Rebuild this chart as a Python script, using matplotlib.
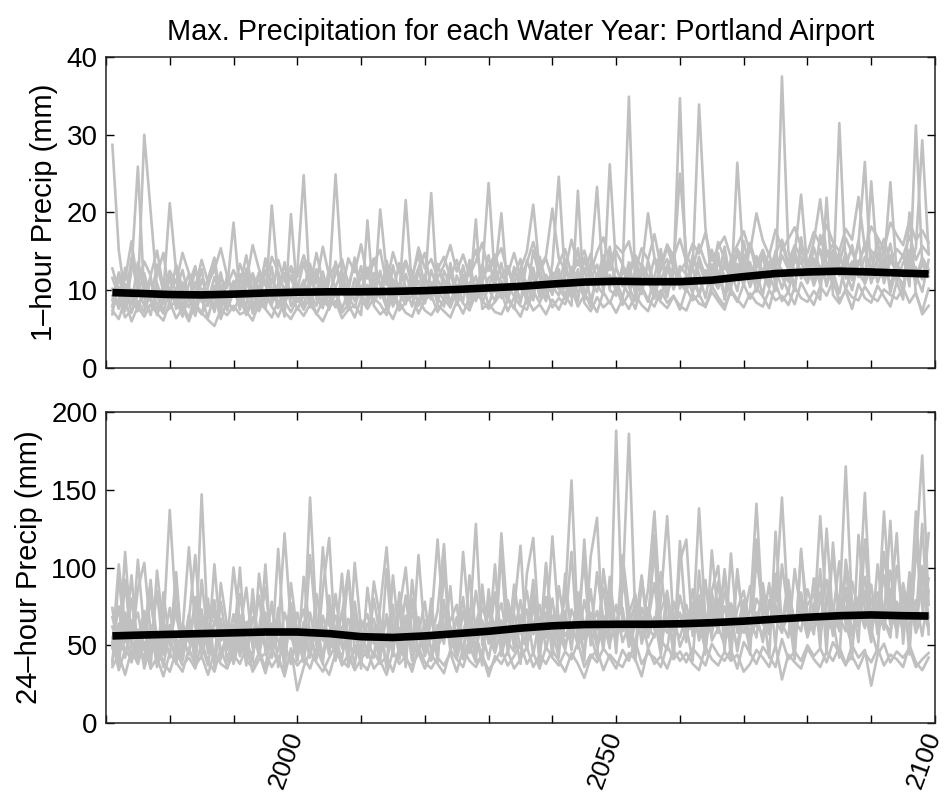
import matplotlib
matplotlib.use("Agg")
import matplotlib.pyplot as plt
import matplotlib.transforms as mtransforms

plt.rcParams['font.family'] = ['Liberation Sans', 'DejaVu Sans']

# ---------------- data ----------------
years = list(range(1971, 2100))  # water years 1971..2099

# 1-hour annual max precipitation (mm), one list per ensemble member
hr1_runs = [
    [28.7, 15.2, 9.1, 8.4, 10.6, 7.9, 11.3, 9.0, 8.2, 12.4,
     9.6, 7.4, 10.8, 13.1, 8.5, 9.9, 7.2, 11.6, 10.3, 18.7,
     9.4, 8.1, 12.2, 10.0, 7.7, 11.5, 9.2, 13.6, 8.8, 10.4,
     7.9, 11.8, 9.5, 8.3, 12.9, 10.1, 7.6, 9.8, 14.2, 8.9,
     10.7, 9.3, 12.5, 8.0, 11.1, 9.6, 21.6, 10.2, 8.4, 12.0,
     9.1, 13.4, 10.5, 7.8, 11.9, 9.7, 12.8, 8.6, 10.9, 14.5,
     9.8, 11.2, 8.5, 13.0, 10.4, 9.2, 15.1, 11.6, 8.9, 12.3,
     10.6, 14.0, 9.4, 12.7, 8.8, 11.5, 13.3, 10.0, 15.6, 9.7,
     12.4, 34.9, 11.0, 9.5, 13.8, 10.7, 8.9, 12.6, 14.9, 10.2,
     11.8, 9.6, 13.5, 10.9, 15.2, 12.0, 9.3, 14.1, 11.4, 16.3,
     12.5, 10.8, 14.7, 11.9, 9.9, 16.0, 13.2, 10.6, 15.4, 12.8,
     11.2, 17.1, 13.6, 10.4, 31.5, 12.9, 15.8, 11.7, 14.3, 12.1,
     16.5, 10.9, 13.8, 12.4, 9.8, 15.0, 11.6, 14.2, 12.7],
    [8.1, 10.4, 7.3, 12.6, 25.9, 9.2, 6.8, 10.9, 8.4, 11.7,
     7.6, 9.8, 12.1, 8.0, 6.9, 10.5, 13.4, 7.8, 9.1, 11.2,
     8.3, 12.8, 7.0, 9.6, 14.1, 8.7, 10.2, 6.6, 19.8, 9.4,
     11.0, 7.8, 12.3, 9.9, 8.1, 13.7, 10.6, 7.4, 11.5, 9.0,
     12.9, 8.4, 10.1, 7.7, 13.2, 9.5, 8.2, 11.9, 14.6, 10.3,
     22.5, 9.0, 7.9, 12.2, 10.4, 8.6, 13.9, 9.3, 11.1, 8.0,
     10.8, 13.5, 9.1, 7.6, 12.4, 10.9, 8.7, 14.3, 11.0, 9.4,
     12.7, 8.9, 11.3, 15.4, 9.8, 7.9, 12.1, 10.6, 13.6, 11.4,
     9.0, 12.8, 14.4, 10.3, 8.5, 11.7, 15.3, 9.6, 12.2, 34.7,
     11.5, 13.0, 9.2, 12.6, 10.1, 14.8, 8.8, 11.9, 13.4, 10.5,
     15.9, 12.3, 9.4, 13.7, 11.0, 14.5, 12.7, 9.9, 16.8, 11.6,
     13.9, 10.7, 15.1, 12.4, 9.6, 14.0, 12.2, 16.4, 10.8, 13.1,
     11.9, 15.6, 9.7, 12.9, 14.6, 10.5, 31.2, 13.3, 11.8],
    [6.9, 11.8, 8.5, 14.2, 9.7, 30.0, 20.1, 10.3, 7.2, 9.9,
     11.4, 8.2, 6.4, 9.5, 12.7, 8.0, 10.6, 7.1, 12.0, 9.2,
     10.9, 7.4, 9.0, 11.7, 8.3, 13.0, 7.7, 10.1, 9.4, 12.5,
     24.8, 9.7, 8.0, 11.3, 7.5, 10.4, 12.6, 8.8, 9.9, 13.1,
     8.6, 11.4, 9.0, 13.8, 10.2, 7.9, 12.1, 9.5, 11.2, 8.3,
     12.6, 10.0, 8.7, 13.5, 9.3, 11.8, 7.8, 10.7, 12.3, 23.8,
     11.2, 9.0, 12.8, 10.3, 8.4, 13.9, 11.5, 9.7, 12.0, 10.6,
     9.3, 12.5, 10.8, 8.6, 14.2, 11.0, 9.8, 13.1, 10.4, 12.9,
     10.5, 13.6, 9.4, 12.1, 11.3, 8.9, 14.7, 10.8, 12.6, 11.0,
     9.8, 12.9, 33.9, 18.0, 11.6, 10.2, 13.8, 12.4, 9.9, 14.6,
     11.1, 13.9, 12.0, 10.3, 15.1, 11.8, 9.7, 14.0, 12.5, 10.9,
     15.5, 12.6, 11.0, 14.4, 13.0, 10.1, 12.8, 15.9, 26.5, 11.3,
     12.2, 14.1, 10.6, 13.5, 11.7, 15.2, 12.0, 9.8, 13.9],
    [10.2, 7.6, 12.9, 9.0, 7.3, 11.1, 8.6, 13.3, 9.8, 21.2,
     12.4, 9.1, 7.8, 11.0, 8.8, 6.5, 9.7, 12.3, 8.1, 10.4,
     7.5, 11.3, 9.5, 8.2, 12.6, 10.0, 7.9, 9.3, 11.9, 8.5,
     10.2, 13.4, 8.9, 7.7, 11.2, 24.9, 12.0, 9.1, 7.8, 10.6,
     9.4, 12.2, 10.8, 8.1, 9.7, 13.5, 10.4, 7.9, 12.7, 9.2,
     11.0, 8.3, 12.5, 10.6, 8.9, 13.2, 9.6, 11.8, 8.4, 10.3,
     13.1, 10.0, 8.8, 11.7, 14.0, 9.5, 12.3, 10.4, 8.6, 13.4,
     24.6, 11.4, 9.1, 10.9, 12.8, 8.7, 11.6, 14.5, 10.0, 9.3,
     13.2, 10.4, 8.6, 12.9, 10.8, 14.1, 11.2, 9.1, 13.5, 11.8,
     10.3, 14.5, 12.1, 9.0, 13.3, 11.4, 15.6, 10.7, 12.8, 11.5,
     13.6, 9.8, 12.4, 14.9, 10.6, 37.5, 15.0, 12.2, 13.8, 11.0,
     12.9, 15.3, 10.5, 13.7, 12.0, 14.8, 11.3, 13.4, 15.7, 10.9,
     14.3, 12.5, 16.0, 11.1, 13.6, 12.8, 15.4, 29.3, 14.8],
    [9.3, 8.0, 10.8, 7.1, 9.5, 12.2, 8.7, 7.4, 10.9, 8.3,
     10.1, 12.6, 8.9, 7.6, 11.4, 9.3, 8.1, 10.7, 7.4, 9.8,
     12.1, 9.0, 7.8, 10.6, 8.6, 20.9, 11.2, 8.4, 10.0, 7.5,
     9.3, 10.8, 12.7, 8.2, 9.6, 7.9, 11.6, 10.3, 8.6, 12.0,
     9.9, 8.5, 20.4, 12.3, 8.7, 10.9, 9.1, 11.6, 8.0, 10.5,
     8.8, 11.4, 9.4, 12.9, 8.1, 10.2, 11.0, 9.0, 13.3, 10.1,
     8.6, 12.0, 10.7, 9.2, 11.9, 8.3, 10.5, 12.7, 9.9, 11.3,
     10.2, 9.0, 13.0, 11.5, 8.9, 12.4, 10.7, 9.4, 26.2, 12.8,
     11.1, 9.3, 12.7, 10.0, 13.5, 9.7, 11.4, 13.2, 10.1, 12.4,
     13.7, 11.0, 9.6, 12.2, 10.8, 13.6, 11.9, 9.4, 26.4, 13.1,
     10.4, 12.9, 14.2, 11.3, 13.0, 10.2, 12.7, 15.1, 11.5, 13.4,
     10.6, 13.1, 12.3, 15.2, 11.9, 12.6, 10.0, 13.8, 12.4, 14.6,
     11.0, 13.2, 23.9, 12.1, 10.7, 13.7, 12.9, 11.4, 12.6],
    [7.4, 6.3, 8.8, 6.0, 7.9, 6.6, 8.2, 7.0, 6.1, 8.5,
     6.4, 7.7, 6.0, 8.3, 7.1, 6.2, 5.4, 7.5, 6.8, 8.0,
     6.9, 7.3, 6.1, 8.4, 7.6, 6.5, 8.7, 7.2, 6.3, 7.8,
     6.7, 8.2, 7.0, 6.0, 7.9, 8.6, 6.4, 7.5, 8.1, 6.8,
     19.0, 8.0, 6.9, 7.7, 6.3, 8.4, 7.1, 6.6, 8.9, 7.4,
     6.8, 8.1, 7.3, 6.5, 8.6, 7.0, 9.1, 19.1, 7.6, 8.3,
     7.2, 6.9, 8.7, 7.8, 6.6, 9.0, 7.4, 8.2, 6.9, 8.8,
     7.5, 9.3, 8.0, 22.8, 8.4, 7.3, 9.1, 7.8, 8.6, 7.1,
     8.9, 7.6, 9.4, 8.1, 7.3, 9.7, 8.5, 7.7, 9.2, 8.0,
     7.4, 9.5, 8.3, 7.9, 9.8, 8.6, 7.5, 10.1, 8.8, 7.8,
     9.6, 8.4, 7.9, 10.0, 8.7, 9.3, 8.1, 10.4, 9.0, 8.5,
     9.9, 8.8, 21.9, 9.4, 8.3, 10.2, 9.1, 8.7, 10.5, 9.2,
     8.6, 10.1, 9.4, 8.9, 10.3, 8.4, 9.7, 6.9, 8.0],
    [11.6, 9.2, 7.7, 10.1, 8.0, 9.4, 11.8, 6.8, 9.0, 10.3,
     8.3, 11.0, 9.4, 6.7, 10.2, 8.6, 11.7, 9.0, 7.5, 10.6,
     8.9, 10.4, 11.8, 7.6, 9.7, 8.2, 10.9, 12.2, 8.0, 9.5,
     11.3, 8.6, 10.0, 12.4, 9.1, 7.8, 10.7, 8.3, 11.5, 9.7,
     8.1, 10.6, 9.3, 11.8, 7.9, 10.1, 8.8, 12.5, 9.6, 8.4,
     10.9, 9.2, 11.5, 8.5, 10.3, 12.0, 8.9, 10.5, 9.3, 11.6,
     12.2, 19.9, 9.6, 11.0, 8.8, 10.6, 12.9, 9.1, 11.4, 9.8,
     11.7, 10.3, 12.6, 9.5, 11.0, 13.2, 23.3, 10.8, 12.0, 9.9,
     12.3, 11.5, 10.1, 13.4, 11.8, 10.4, 12.6, 14.0, 10.9, 13.1,
     12.0, 10.5, 14.3, 11.7, 12.9, 10.6, 13.2, 11.3, 14.8, 12.1,
     11.4, 14.4, 12.3, 10.8, 13.9, 12.6, 11.1, 14.6, 22.3, 12.7,
     14.1, 11.8, 13.3, 12.0, 14.9, 11.5, 13.7, 12.2, 10.9, 24.0,
     13.1, 11.3, 14.5, 12.6, 11.9, 14.0, 10.8, 13.5, 12.3],
    [8.7, 12.3, 10.0, 8.1, 13.6, 10.7, 9.5, 12.0, 14.8, 9.1,
     13.3, 10.2, 8.6, 12.8, 9.4, 11.5, 14.2, 8.9, 10.7, 12.6,
     10.5, 14.5, 9.8, 12.3, 10.8, 9.1, 13.9, 11.1, 12.9, 10.1,
     13.6, 10.4, 14.8, 11.0, 9.5, 12.1, 14.0, 10.8, 13.2, 11.4,
     12.4, 14.1, 10.5, 12.8, 11.3, 9.9, 13.7, 10.6, 12.9, 14.8,
     10.2, 12.7, 14.3, 11.6, 13.9, 10.8, 12.5, 15.2, 11.4, 13.0,
     14.6, 11.8, 13.1, 10.9, 12.7, 15.0, 21.0, 12.4, 14.1, 11.2,
     13.5, 15.3, 11.9, 13.8, 12.2, 14.7, 11.4, 13.9, 12.6, 15.0,
     13.3, 11.6, 14.5, 12.9, 19.9, 14.2, 12.7, 15.5, 13.0, 25.0,
     14.6, 12.8, 15.9, 13.5, 12.1, 16.2, 14.0, 12.6, 15.3, 13.7,
     16.1, 13.3, 15.2, 12.8, 14.7, 16.5, 13.6, 15.8, 14.2, 13.0,
     16.3, 21.7, 14.5, 15.9, 13.4, 16.7, 14.8, 13.2, 16.0, 15.1,
     14.0, 16.6, 13.7, 15.3, 14.4, 17.0, 13.9, 15.7, 14.6],
    [12.8, 9.9, 11.4, 16.3, 10.5, 13.7, 11.9, 15.1, 10.2, 12.5,
     10.9, 14.8, 12.2, 10.4, 13.9, 11.0, 12.6, 15.4, 11.8, 9.6,
     13.4, 11.1, 15.8, 12.7, 10.6, 14.3, 12.4, 9.9, 13.1, 11.7,
     14.5, 12.0, 10.9, 15.6, 11.8, 13.3, 9.7, 14.1, 12.3, 15.9,
     11.5, 13.6, 15.2, 10.7, 14.9, 12.2, 13.8, 11.4, 15.5, 12.8,
     14.0, 11.6, 13.2, 15.8, 12.4, 14.6, 11.9, 13.7, 16.1, 12.5,
     13.9, 15.4, 12.1, 14.8, 11.7, 13.5, 16.2, 12.9, 14.4, 20.5,
     14.1, 12.6, 16.5, 13.2, 15.1, 12.3, 14.9, 16.8, 13.4, 15.7,
     14.8, 16.3, 12.5, 15.4, 13.9, 17.2, 13.1, 15.9, 14.3, 16.6,
     13.6, 16.0, 14.7, 17.4, 13.8, 15.5, 16.9, 14.2, 15.8, 17.6,
     14.9, 19.9, 16.4, 14.5, 17.8, 15.2, 16.6, 18.1, 15.6, 14.8,
     17.5, 15.9, 18.4, 16.2, 15.0, 17.9, 16.5, 22.0, 15.4, 18.2,
     16.8, 15.3, 18.7, 17.1, 15.8, 19.0, 16.4, 17.7, 16.1],
    [7.8, 8.9, 6.5, 7.5, 8.6, 7.2, 9.8, 8.3, 7.0, 7.7,
     8.8, 6.6, 9.2, 7.9, 7.0, 8.5, 9.4, 6.3, 8.7, 7.4,
     9.1, 6.8, 8.5, 7.3, 9.5, 7.9, 6.6, 8.6, 7.2, 9.0,
     7.5, 9.3, 6.9, 8.7, 7.8, 9.6, 7.1, 8.2, 6.5, 8.9,
     7.6, 9.0, 8.2, 6.8, 9.7, 7.4, 8.5, 9.3, 7.0, 8.8,
     9.4, 7.2, 8.9, 7.8, 9.9, 8.3, 7.4, 9.6, 8.7, 7.6,
     8.5, 9.7, 7.3, 9.1, 8.0, 7.5, 9.9, 8.4, 10.2, 7.8,
     9.0, 8.2, 10.3, 7.9, 9.4, 8.6, 7.2, 9.8, 8.3, 10.4,
     8.1, 9.6, 7.6, 10.5, 8.8, 7.9, 10.0, 8.4, 9.3, 7.5,
     10.2, 8.7, 9.5, 7.8, 10.6, 9.1, 8.0, 9.9, 8.5, 10.8,
     8.9, 10.3, 9.2, 7.7, 10.9, 8.6, 9.8, 8.2, 11.0, 9.4,
     8.1, 10.5, 9.3, 11.2, 8.7, 9.9, 7.6, 10.8, 9.0, 8.4,
     10.6, 9.2, 7.9, 11.1, 8.8, 20.0, 9.5, 7.3, 10.2],
]

# 24-hour annual max precipitation (mm), one list per ensemble member
hr24_runs = [
    [48, 102, 61, 39, 55, 72, 44, 58, 36, 63,
     51, 40, 67, 45, 147, 57, 38, 62, 49, 70,
     43, 59, 76, 47, 35, 64, 53, 41, 68, 56,
     39, 71, 50, 62, 44, 83, 48, 58, 37, 66,
     54, 42, 75, 113, 60, 46, 69, 40, 57, 78,
     45, 63, 51, 88, 41, 59, 73, 47, 66, 52,
     84, 43, 61, 70, 48, 57, 92, 45, 68, 54,
     62, 79, 156, 58, 46, 71, 60, 87, 51, 66,
     74, 49, 63, 95, 55, 68, 44, 80, 59, 71,
     52, 86, 64, 47, 77, 58, 99, 62, 50, 73,
     67, 55, 90, 61, 78, 145, 70, 53, 84, 60,
     75, 95, 58, 69, 104, 63, 50, 81, 66, 89,
     57, 72, 98, 64, 83, 52, 110, 172, 76],
    [62, 47, 110, 53, 41, 66, 50, 85, 44, 57,
     38, 64, 52, 78, 43, 60, 71, 46, 55, 41,
     69, 50, 44, 61, 87, 48, 58, 122, 63, 45,
     57, 42, 66, 53, 74, 40, 61, 49, 71, 58,
     46, 80, 55, 38, 63, 52, 44, 71, 59, 49,
     65, 118, 60, 54, 43, 72, 50, 85, 58, 41,
     64, 77, 52, 46, 69, 58, 82, 49, 103, 60,
     53, 72, 47, 84, 62, 55, 97, 66, 48, 188,
     59, 70, 83, 51, 65, 90, 54, 47, 78, 62,
     76, 58, 69, 92, 53, 61, 84, 72, 46, 68,
     88, 63, 57, 75, 96, 59, 70, 54, 81, 67,
     60, 78, 92, 56, 71, 165, 74, 62, 85, 58,
     79, 66, 55, 101, 70, 88, 61, 94, 68],
    [55, 38, 71, 49, 86, 103, 58, 42, 65, 51,
     73, 56, 44, 81, 50, 37, 66, 59, 47, 63,
     52, 41, 68, 57, 49, 78, 36, 60, 54, 71,
     48, 145, 64, 43, 58, 69, 52, 96, 45, 61,
     70, 51, 59, 66, 43, 84, 57, 48, 62, 53,
     40, 58, 79, 47, 67, 55, 61, 128, 50, 72,
     56, 66, 48, 89, 61, 73, 44, 68, 55, 80,
     47, 64, 59, 71, 103, 50, 66, 58, 79, 61,
     85, 186, 68, 56, 74, 60, 97, 65, 53, 82,
     64, 71, 56, 88, 69, 60, 75, 53, 94, 66,
     58, 80, 72, 61, 89, 64, 55, 99, 70, 76,
     83, 62, 77, 108, 68, 59, 91, 72, 148, 64,
     71, 95, 63, 77, 58, 84, 69, 101, 62],
    [40, 64, 52, 95, 46, 59, 78, 50, 61, 137,
     70, 48, 59, 43, 66, 52, 79, 41, 58, 46,
     60, 87, 48, 55, 71, 42, 64, 51, 38, 59,
     73, 51, 45, 113, 63, 54, 41, 67, 57, 44,
     58, 67, 47, 54, 76, 41, 61, 55, 68, 43,
     57, 46, 70, 62, 52, 81, 45, 59, 74, 63,
     49, 122, 66, 57, 79, 51, 63, 76, 47, 69,
     58, 47, 73, 62, 54, 86, 51, 69, 60, 76,
     52, 63, 77, 68, 48, 57, 72, 84, 61, 55,
     70, 59, 138, 66, 57, 80, 62, 51, 73, 85,
     63, 71, 52, 79, 66, 58, 87, 64, 73, 55,
     69, 84, 63, 76, 59, 98, 67, 74, 61, 80,
     62, 136, 74, 59, 90, 67, 79, 56, 85],
    [68, 53, 45, 60, 71, 47, 63, 36, 52, 74,
     44, 59, 113, 62, 48, 71, 55, 67, 40, 57,
     47, 65, 54, 82, 46, 58, 69, 45, 77, 50,
     62, 44, 83, 58, 49, 61, 70, 98, 55, 47,
     64, 57, 43, 70, 52, 61, 48, 80, 45, 66,
     54, 72, 115, 49, 60, 46, 69, 56, 43, 77,
     60, 52, 75, 48, 66, 85, 57, 63, 71, 50,
     69, 56, 64, 50, 79, 60, 72, 47, 94, 57,
     64, 54, 72, 61, 86, 136, 66, 58, 71, 49,
     60, 77, 53, 70, 63, 91, 56, 68, 61, 79,
     54, 66, 83, 58, 71, 63, 92, 57, 76, 69,
     64, 133, 70, 58, 82, 73, 56, 69, 94, 63,
     75, 60, 86, 72, 64, 79, 58, 70, 93],
    [50, 75, 42, 66, 57, 39, 88, 54, 47, 60,
     56, 41, 62, 51, 73, 45, 102, 53, 64, 38,
     55, 47, 60, 43, 67, 53, 46, 71, 57, 40,
     65, 58, 41, 69, 52, 46, 62, 55, 78, 50,
     42, 59, 66, 49, 57, 72, 100, 51, 44, 61,
     70, 49, 58, 66, 76, 42, 54, 63, 81, 56,
     45, 61, 70, 54, 59, 48, 74, 62, 57, 120,
     64, 51, 60, 77, 57, 68, 49, 61, 73, 54,
     67, 59, 50, 74, 62, 55, 79, 133, 64, 70,
     57, 66, 74, 55, 84, 62, 50, 77, 65, 58,
     72, 141, 68, 57, 76, 61, 81, 66, 59, 86,
     71, 57, 79, 66, 62, 87, 58, 75, 64, 70,
     84, 65, 59, 78, 69, 62, 136, 74, 60],
    [38, 95, 52, 80, 44, 67, 35, 98, 60, 42,
     88, 47, 70, 36, 92, 55, 41, 78, 50, 100,
     64, 37, 86, 48, 102, 42, 74, 33, 90, 58,
     45, 108, 60, 38, 82, 51, 96, 43, 70, 35,
     87, 55, 40, 99, 48, 74, 36, 92, 57, 44,
     80, 39, 104, 52, 68, 41, 95, 58, 37, 86,
     50, 110, 44, 73, 114, 47, 83, 38, 101, 60,
     42, 96, 55, 79, 40, 107, 132, 50, 88, 45,
     101, 59, 40, 92, 66, 112, 48, 80, 43, 117,
     62, 40, 98, 54, 85, 101, 46, 109, 58, 75,
     44, 118, 63, 90, 49, 102, 71, 41, 112, 59,
     93, 48, 125, 66, 42, 105, 79, 52, 118, 60,
     45, 110, 74, 122, 51, 97, 64, 128, 57],
    [74, 40, 92, 48, 105, 58, 92, 39, 84, 50,
     97, 43, 66, 108, 52, 80, 36, 90, 62, 45,
     83, 54, 39, 96, 63, 45, 112, 50, 77, 40,
     94, 58, 42, 86, 119, 48, 72, 37, 103, 60,
     44, 91, 67, 35, 95, 53, 82, 46, 108, 56,
     70, 41, 98, 58, 45, 110, 62, 40, 89, 51,
     102, 47, 79, 60, 38, 96, 119, 55, 81, 43,
     88, 62, 110, 48, 118, 57, 42, 99, 66, 53,
     108, 73, 46, 94, 60, 121, 51, 85, 43, 104,
     118, 56, 82, 44, 111, 68, 95, 40, 99, 63,
     50, 106, 75, 42, 123, 61, 88, 47, 110, 70,
     57, 99, 45, 116, 64, 84, 41, 121, 73, 52,
     102, 67, 130, 55, 89, 44, 115, 76, 122],
    [36, 44, 31, 47, 38, 52, 35, 42, 30, 45,
     39, 33, 48, 37, 43, 31, 46, 38, 35, 49,
     100, 40, 36, 45, 32, 48, 39, 34, 44, 37,
     42, 35, 48, 38, 31, 45, 40, 36, 50, 39,
     34, 46, 38, 43, 33, 49, 40, 37, 45, 35,
     44, 38, 32, 47, 41, 36, 50, 39, 43, 34,
     40, 47, 37, 43, 51, 38, 45, 35, 49, 42,
     37, 46, 41, 52, 36, 44, 39, 48, 42, 35,
     47, 40, 53, 38, 45, 42, 36, 50, 41, 46,
     39, 48, 43, 37, 51, 44, 40, 47, 35, 52,
     45, 38, 49, 43, 36, 54, 41, 46, 40, 50,
     43, 48, 39, 52, 45, 37, 50, 42, 47, 24,
     44, 51, 39, 46, 42, 48, 36, 41, 45],
    [52, 34, 47, 41, 60, 35, 50, 44, 39, 33,
     46, 37, 42, 35, 52, 40, 33, 48, 36, 44,
     38, 49, 33, 41, 45, 36, 43, 30, 48, 21,
     36, 46, 39, 33, 42, 50, 37, 44, 34, 41,
     47, 35, 40, 31, 46, 38, 43, 33, 49, 39,
     35, 42, 37, 45, 33, 48, 40, 36, 44, 30,
     43, 38, 46, 35, 41, 49, 36, 44, 38, 47,
     40, 33, 45, 38, 29, 42, 47, 34, 44, 39,
     36, 45, 41, 30, 48, 38, 43, 35, 47, 40,
     45, 38, 34, 49, 41, 37, 46, 40, 44, 33,
     38, 47, 42, 36, 50, 28, 44, 39, 35, 48,
     41, 36, 46, 40, 49, 38, 43, 35, 45, 39,
     48, 37, 44, 41, 36, 50, 39, 34, 42],
]

# smoothed ensemble mean
mean_years = [1971, 1975, 1980, 1985, 1990, 1995, 2000, 2005, 2010, 2015,
              2020, 2025, 2030, 2035, 2040, 2045, 2050, 2055, 2060, 2065,
              2070, 2075, 2080, 2085, 2090, 2095, 2099]
hr1_mean = [9.7, 9.6, 9.45, 9.4, 9.5, 9.65, 9.75, 9.8, 9.8, 9.85,
            9.95, 10.1, 10.3, 10.5, 10.8, 11.05, 11.15, 11.1, 11.1, 11.3,
            11.75, 12.15, 12.35, 12.45, 12.35, 12.2, 12.1]
hr24_mean = [56, 56.5, 57, 57.5, 58, 58.5, 58.5, 57.5, 55.5, 55,
             56, 57.5, 59, 61, 62.5, 63.3, 63.5, 63.5, 63.8, 64.5,
             65.5, 66.8, 68, 69, 69.5, 69, 68.8]

title = "Max. Precipitation for each Water Year: Portland Airport"
ylabel_top = "1\u2013hour Precip (mm)"
ylabel_bot = "24\u2013hour Precip (mm)"
top_yticks = [0, 10, 20, 30, 40]
bot_yticks = [0, 50, 100, 150, 200]
xticks = list(range(1970, 2101, 10))
xtick_labels = {2000: "2000", 2050: "2050", 2100: "2100"}

# ---------------- plot ----------------
fig = plt.figure(figsize=(9.45, 7.99), dpi=100)
ax1 = fig.add_axes([106/945, 1 - 368/799, 829/945, 311/799])
ax2 = fig.add_axes([106/945, 1 - 723/799, 829/945, 311/799])

gray = '#c0c0c0'
for ax, runs, mean, yt in ((ax1, hr1_runs, hr1_mean, top_yticks),
                           (ax2, hr24_runs, hr24_mean, bot_yticks)):
    for run in runs:
        ax.plot(years[:len(run)], run, color=gray, lw=1.9, zorder=2)
    ax.plot(mean_years, mean, color='black', lw=5.5, solid_capstyle='butt', zorder=3)
    ax.set_xlim(1970, 2100)
    ax.set_ylim(yt[0], yt[-1])
    ax.set_yticks(yt)
    ax.set_xticks(xticks)
    ax.tick_params(direction='in', length=6, width=1.0, top=True, right=True,
                   labelsize=20, colors='black', pad=6)
    for s in ax.spines.values():
        s.set_linewidth(1.1)
        s.set_color('#222222')

ax1.set_xticklabels([])
ax2.set_xticklabels([xtick_labels.get(t, "") for t in xticks],
                    rotation=70, ha='center', va='top', fontsize=19)
ax2.tick_params(axis='x', pad=4)
shift = mtransforms.ScaledTranslation(-11/100, 0, fig.dpi_scale_trans)
for lab in ax2.get_xticklabels():
    lab.set_transform(lab.get_transform() + shift)
ax1.set_ylabel(ylabel_top, fontsize=21, labelpad=6)
ax2.set_ylabel(ylabel_bot, fontsize=21, labelpad=6)
ax1.set_title(title, fontsize=20.8, pad=12)

fig.savefig("out.png", dpi=100)
